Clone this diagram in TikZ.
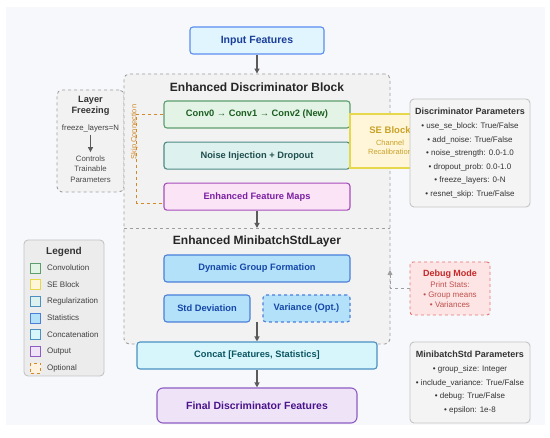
\documentclass[tikz,border=0pt]{standalone}
\usepackage{fontspec}
\setmainfont{Liberation Sans}
\usetikzlibrary{positioning,arrows.meta}

\definecolor{pagebg}{HTML}{F6F8FB}
\definecolor{framefill}{HTML}{F2F2F2}
\definecolor{framedraw}{HTML}{9E9E9E}
\definecolor{flowgrey}{HTML}{5A5A5A}
\definecolor{inputfill}{HTML}{E1F5FE}
\definecolor{inputdraw}{HTML}{5B8DEF}
\definecolor{inputtext}{HTML}{1A3E9A}
\definecolor{convfill}{HTML}{E3F4E6}
\definecolor{convdraw}{HTML}{5C9E6E}
\definecolor{convtext}{HTML}{1B5E20}
\definecolor{noisefill}{HTML}{DDF2EF}
\definecolor{noisedraw}{HTML}{4E8A86}
\definecolor{noisetext}{HTML}{1F4E4E}
\definecolor{mapfill}{HTML}{FCE4F7}
\definecolor{mapdraw}{HTML}{A64DBB}
\definecolor{maptext}{HTML}{7B1FA2}
\definecolor{statfill}{HTML}{B3E1FA}
\definecolor{statdraw}{HTML}{4A80D8}
\definecolor{stattext}{HTML}{1547A8}
\definecolor{catfill}{HTML}{D6F6FB}
\definecolor{catdraw}{HTML}{4A90C2}
\definecolor{cattext}{HTML}{0B5563}
\definecolor{outfill}{HTML}{EFE3F8}
\definecolor{outdraw}{HTML}{8E5CC4}
\definecolor{outtext}{HTML}{4A148C}
\definecolor{sefill}{HTML}{FFF6DA}
\definecolor{sedraw}{HTML}{E6D84A}
\definecolor{setext}{HTML}{C9A227}
\definecolor{dbgfill}{HTML}{FDE5E5}
\definecolor{dbgdraw}{HTML}{E57373}
\definecolor{dbgtitle}{HTML}{C62828}
\definecolor{dbgtext}{HTML}{C0504D}
\definecolor{parfill}{HTML}{F4F4F4}
\definecolor{pardraw}{HTML}{C4C4C4}
\definecolor{legfill}{HTML}{ECECEC}
\definecolor{skiporange}{HTML}{D08A2A}
\definecolor{opttfill}{HTML}{FFF3E0}

\begin{document}
\begin{tikzpicture}[x=1pt,y=-1pt,
    box/.style={draw, rounded corners=3pt, line width=1.1pt, minimum width=186pt,
      minimum height=27pt, inner sep=2pt, font=\fontsize{9.3}{11}\selectfont\bfseries},
    frame/.style={draw=framedraw, fill=framefill, dashed, line width=0.9pt, rounded corners=5pt},
    parambox/.style={draw=pardraw, fill=parfill, line width=0.9pt, rounded corners=4pt,
      align=center, font=\fontsize{8}{13.5}\selectfont, text=black!80},
    flow/.style={draw=flowgrey, line width=1.2pt, -{Triangle[length=5pt,width=5pt]}},
    legsq/.style={draw, line width=0.7pt, minimum size=10pt, inner sep=0pt}]
  \useasboundingbox (0,0) rectangle (550,438);
  \fill[pagebg] (6,7) rectangle (545,425);

  \node[box, fill=inputfill, draw=inputdraw, text=inputtext, minimum width=134pt,
    font=\fontsize{10.5}{12}\selectfont\bfseries] (input) at (257,40.5) {Input Features};

  \node[frame, minimum width=67pt, minimum height=102pt] (freeze) at (90.5,141) {};
  \node[font=\fontsize{9.2}{10.5}\selectfont\bfseries, align=center, text=black!80] (freezetitle) at (90.5,106) {Layer\\Freezing};
  \node[font=\fontsize{7.8}{8}\selectfont, text=black!75] (freezevar) at (90.5,128) {freeze\_layers=N};
  \node[font=\fontsize{7.8}{10.5}\selectfont, align=center, text=black!70] (freezenote) at (90.5,169) {Controls\\Trainable\\Parameters};

  \node[frame, minimum width=266pt, minimum height=270pt] (discblock) at (257,209) {};
  \coordinate (mbl) at (124,228);
  \coordinate (mbr) at (390,228);
  \draw[draw=framedraw, dashed, line width=0.9pt] (mbl) -- (mbr);

  \node[font=\fontsize{12}{14}\selectfont\bfseries, text=black!85] (disctitle) at (257,87) {Enhanced Discriminator Block};
  \node[box, fill=convfill, draw=convdraw, text=convtext] (conv) at (257,114.5) {Conv0 → Conv1 → Conv2 (New)};
  \node[box, fill=noisefill, draw=noisedraw, text=noisetext, below=13pt of conv] (noise) {Noise Injection + Dropout};
  \node[box, fill=mapfill, draw=mapdraw, text=maptext, below=13pt of noise] (fmaps) {Enhanced Feature Maps};

  \node[font=\fontsize{12}{14}\selectfont\bfseries, text=black!85] (mbtitle) at (257,241) {Enhanced MinibatchStdLayer};
  \node[box, fill=statfill, draw=statdraw, text=stattext] (group) at (257,268.5) {Dynamic Group Formation};
  \node[box, fill=statfill, draw=statdraw, text=stattext, minimum width=86pt] (std) at (207,308.5) {Std Deviation};
  \node[box, fill=statfill, draw=statdraw, text=stattext, minimum width=87pt, dashed] (var) at (306.5,308.5) {Variance (Opt.)};
  \coordinate (statsout) at (257,322);

  \node[box, fill=catfill, draw=catdraw, text=cattext, minimum width=240pt] (concat) at (257,355.5) {Concat [Features, Statistics]};
  \node[box, fill=outfill, draw=outdraw, text=outtext, minimum width=200pt, minimum height=35pt,
    rounded corners=6pt, font=\fontsize{10.5}{12}\selectfont\bfseries] (final) at (257,405.5) {Final Discriminator Features};

  \node[draw=sedraw, fill=sefill, line width=1.1pt, minimum width=80pt, minimum height=54pt,
    align=center, text=setext, font=\fontsize{7.5}{9.5}\selectfont] (se) at (390,141)
    {{\fontsize{9.5}{11}\selectfont\bfseries SE Block}\\[2pt]Channel\\Recalibration};

  \node[parambox, minimum width=120pt, minimum height=108pt] (discparams) at (470,153)
    {{\fontsize{9}{10}\selectfont\bfseries Discriminator Parameters}\\[1pt]
     • use\_se\_block: True/False\\
     • add\_noise: True/False\\
     • noise\_strength: 0.0-1.0\\
     • dropout\_prob: 0.0-1.0\\
     • freeze\_layers: 0-N\\
     • resnet\_skip: True/False};

  \node[draw=dbgdraw, fill=dbgfill, dashed, line width=0.9pt, rounded corners=3pt,
    minimum width=80pt, minimum height=53pt, align=center, text=dbgtext,
    font=\fontsize{8}{10}\selectfont] (debug) at (450,288.5)
    {{\fontsize{9}{10}\selectfont\bfseries\color{dbgtitle}Debug Mode}\\[1pt]Print Stats:\\• Group means\\• Variances};
  \coordinate (dbgtip) at (390,270);

  \node[parambox, minimum width=120pt, minimum height=81pt] (mbparams) at (470,382.5)
    {{\fontsize{9}{10}\selectfont\bfseries MinibatchStd Parameters}\\[1pt]
     • group\_size: Integer\\
     • include\_variance: True/False\\
     • debug: True/False\\
     • epsilon: 1e-8};

  \node[draw=pardraw, fill=legfill, line width=0.9pt, rounded corners=4pt,
    minimum width=80pt, minimum height=136pt] (legend) at (64,308) {};
  \node[font=\fontsize{10}{11}\selectfont\bfseries, text=black!80] (legendtitle) at (64,252) {Legend};
  \foreach \i/\fc/\dc/\lbl [count=\n] in {conv/convfill/convdraw/Convolution,
      se/sefill/sedraw/SE Block,
      reg/noisefill/catdraw/Regularization,
      stat/statfill/statdraw/Statistics,
      cat/catfill/catdraw/Concatenation,
      out/outfill/outdraw/Output} {
    \node[legsq, fill=\fc, draw=\dc] (leg\i) at (35.5,251.3+16.7*\n) {};
    \node[right=5pt of leg\i, font=\fontsize{8}{9}\selectfont, text=black!75, inner sep=1pt] (legtxt\i) {\lbl};
  }
  \node[legsq, fill=opttfill, draw=skiporange, dashed] (legopt) at (35.5,368) {};
  \node[right=5pt of legopt, font=\fontsize{8}{9}\selectfont, text=black!75, inner sep=1pt] (legtxtopt) {Optional};

  \draw[flow] (input) -- (discblock.north);
  \draw[flow] (fmaps) -- (fmaps.south |- mbl);
  \draw[flow] (statsout) -- (concat);
  \draw[flow] (concat) -- (final);
  \draw[flow, line width=0.9pt] (freezevar) -- (freezenote);
  \draw[draw=skiporange, dashed, line width=1pt] (conv.west) -- ++(-27,0) |- ([yshift=-6.5pt]fmaps.west);
  \node[rotate=90, text=skiporange, font=\fontsize{7.5}{8}\selectfont, inner sep=1pt] (skiplabel) at (134.5,132) {Skip Connection};
  \draw[draw=framedraw, dashed, line width=0.9pt, -{Triangle[length=5pt,width=5pt]}] (debug.west) -| (dbgtip);
\end{tikzpicture}
\end{document}
